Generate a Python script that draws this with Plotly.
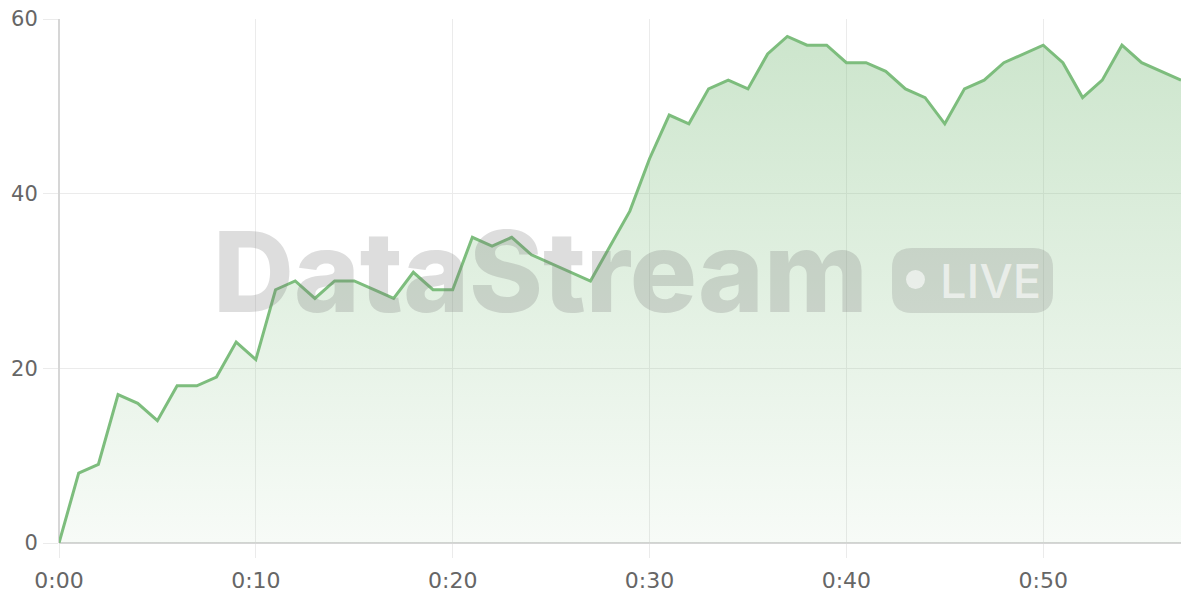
import plotly.graph_objects as go

minutes = list(range(58))
values = [0, 8, 9, 17, 16, 14, 18, 18, 19, 23,
          21, 29, 30, 28, 30, 30, 29, 28, 31, 29,
          29, 35, 34, 35, 33, 32, 31, 30, 34, 38,
          44, 49, 48, 52, 53, 52, 56, 58, 57, 57,
          55, 55, 54, 52, 51, 48, 52, 53, 55, 56,
          57, 55, 51, 53, 57, 55, 54, 53]
x_tick_vals = [0, 10, 20, 30, 40, 50]
x_tick_text = ["0:00", "0:10", "0:20", "0:30", "0:40", "0:50"]
y_tick_vals = [0, 20, 40, 60]

LINE = "#7dbd7d"

# page offset (body margin) compensation
OFF = 8
PL, PR, PT, PB = 59, 1181, 19, 543  # desired plot area in screen px

fig = go.Figure()
fig.add_trace(go.Scatter(
    x=minutes, y=values, mode="lines",
    line=dict(color=LINE, width=3),
    fill="tozeroy",
    fillgradient=dict(type="vertical", start=0, stop=60,
                      colorscale=[[0, "rgba(125,189,125,0.06)"], [1, "rgba(125,189,125,0.40)"]]),
    hoverinfo="skip",
))

grid = "#ebebeb"
fig.update_layout(
    width=1200, height=600,
    margin=dict(l=PL - OFF, r=1200 + OFF - PR, t=PT - OFF, b=600 + OFF - PB, autoexpand=False),
    paper_bgcolor="white", plot_bgcolor="white",
    showlegend=False,
    font=dict(family="DejaVu Sans, sans-serif", size=22, color="#666666"),
    xaxis=dict(range=[0, 57], tickvals=x_tick_vals, ticktext=x_tick_text,
               showgrid=True, gridcolor=grid, gridwidth=1,
               zeroline=True, zerolinecolor="#d6d6d6", zerolinewidth=1.5,
               ticks="outside", ticklen=14, tickcolor=grid, showline=False,
               automargin=False, ticklabelstandoff=4, ticklabeloverflow="allow"),
    yaxis=dict(range=[0, 60], tickvals=y_tick_vals,
               showgrid=True, gridcolor=grid, gridwidth=1,
               zeroline=True, zerolinecolor="#d6d6d6", zerolinewidth=1.5,
               ticks="outside", ticklen=15, tickcolor=grid, showline=False,
               tickfont=dict(size=21),
               automargin=False, ticklabelstandoff=1, ticklabeloverflow="allow"),
)

W, H = PR - PL, PB - PT
def to_paper(px, py):
    return (px - PL) / W, (PB - py) / H

# watermark
wx, wy = to_paper(540, 271)
fig.add_annotation(xref="paper", yref="paper", x=wx, y=wy,
                   text="DataStream", showarrow=False,
                   font=dict(family="Inter, sans-serif", size=112, weight=800,
                             color="rgba(120,120,120,0.25)"),
                   xanchor="center", yanchor="middle")

# badge rounded rect
x0, y0, x1, y1, r = 892, 248, 1053, 313, 20
def P(px, py):
    a, b = to_paper(px, py)
    return f"{a:.5f},{b:.5f}"
path = (f"M {P(x0+r, y0)} L {P(x1-r, y0)} Q {P(x1, y0)} {P(x1, y0+r)} "
        f"L {P(x1, y1-r)} Q {P(x1, y1)} {P(x1-r, y1)} L {P(x0+r, y1)} "
        f"Q {P(x0, y1)} {P(x0, y1-r)} L {P(x0, y0+r)} Q {P(x0, y0)} {P(x0+r, y0)} Z")
fig.add_shape(type="path", path=path, xref="paper", yref="paper",
              fillcolor="rgba(120,120,120,0.22)", line=dict(width=0), layer="above")
cx0, cy0 = to_paper(906, 270)
cx1, cy1 = to_paper(925, 289)
fig.add_shape(type="circle", xref="paper", yref="paper", x0=cx0, y0=cy1, x1=cx1, y1=cy0,
              fillcolor="rgba(255,255,255,0.6)", line=dict(width=0), layer="above")
lx, ly = to_paper(938, 280)
fig.add_annotation(xref="paper", yref="paper", x=lx, y=ly,
                   text="LIVE", showarrow=False,
                   font=dict(family="Inter, sans-serif", size=47, weight=500,
                             color="rgba(255,255,255,0.6)"),
                   xanchor="left", yanchor="middle")

fig.write_html("out.html")
